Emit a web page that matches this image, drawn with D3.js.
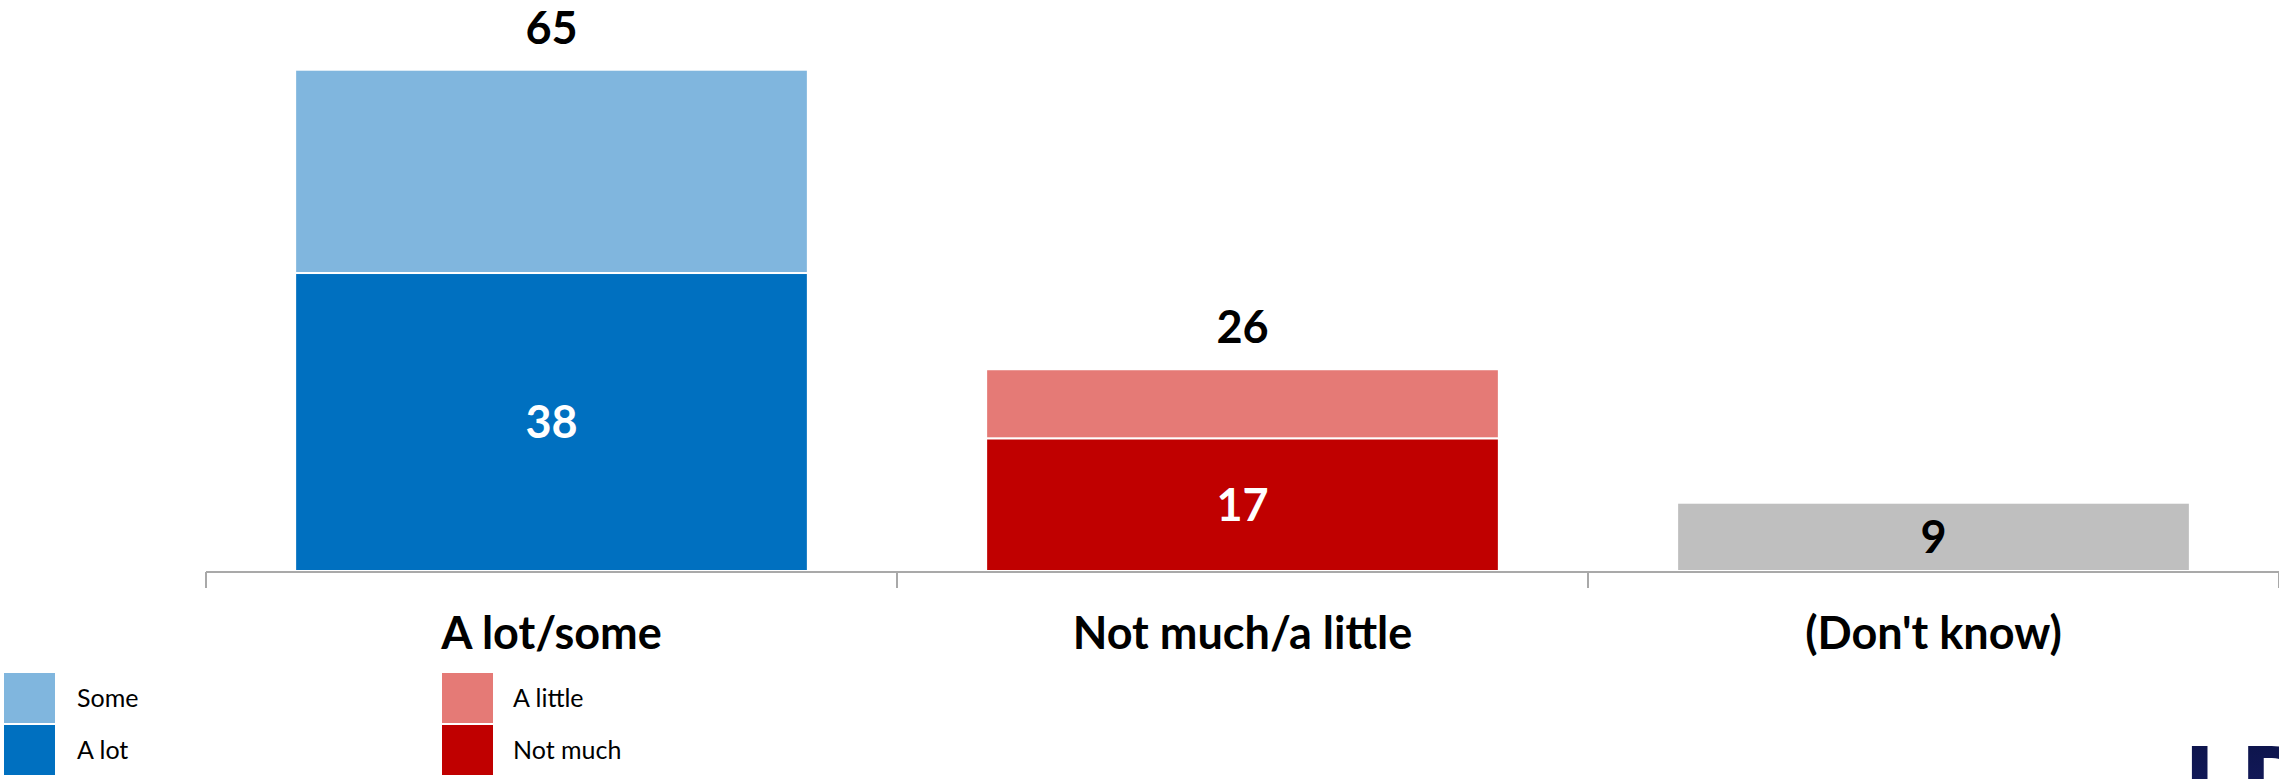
<!DOCTYPE html>
<html>
<head>
<meta charset="utf-8">
<script src="https://cdn.jsdelivr.net/npm/d3@7"></script>
<style>
  html, body { margin: 0; padding: 0; background: #ffffff; }
  svg { display: block; }
  text { font-family: Lato, "Open Sans", "DejaVu Sans", sans-serif; }
</style>
</head>
<body>
<svg id="chart" width="2279" height="779"></svg>
<script>
// ---- data ----
const categories = ["A lot/some", "Not much/a little", "(Don't know)"];
const aLot      = [38.4, 0, 0];
const some      = [26.2, 0, 0];
const notMuch   = [0, 17.1, 0];
const aLittle   = [0, 8.9, 0];
const dontKnow  = [0, 0, 8.8];
const legendLeft  = ["Some", "A lot"];
const legendRight = ["A little", "Not much"];
const logoText = "LR";

// ---- styles ----
const colors = {
  "A lot": "#0070c0", "Some": "#80b6de",
  "Not much": "#c00000", "A little": "#e57a76",
  "(Don't know)": "#bfbfbf"
};

const svg = d3.select("#chart");

const x = d3.scaleBand().domain(categories).range([206, 2279]).padding(0);
const barFrac = 0.742;
const barW = x.bandwidth() * barFrac;
const barX = c => x(c) + (x.bandwidth() - barW) / 2;

const y = d3.scaleLinear().domain([0, 70]).range([571, 571 - 70 * 7.76]);

const fmt = d3.format(".0f");

const bottomSeries = [
  { name: "A lot", values: aLot },
  { name: "Not much", values: notMuch },
  { name: "(Don't know)", values: dontKnow }
];
const topSeries = [
  { name: "Some", values: some },
  { name: "A little", values: aLittle }
];

const segments = [];
categories.forEach((c, i) => {
  let base = 0;
  bottomSeries.forEach(s => {
    if (s.values[i] > 0) { segments.push({ cat: c, name: s.name, y0: base, y1: base + s.values[i], v: s.values[i], pos: "bottom" }); base += s.values[i]; }
  });
  topSeries.forEach(s => {
    if (s.values[i] > 0) { segments.push({ cat: c, name: s.name, y0: base, y1: base + s.values[i], v: s.values[i], pos: "top" }); base += s.values[i]; }
  });
});

const g = svg.append("g");

g.selectAll("rect.seg").data(segments).join("rect")
  .attr("class", "seg")
  .attr("x", d => barX(d.cat))
  .attr("width", barW)
  .attr("y", d => y(d.y1))
  .attr("height", d => y(d.y0) - y(d.y1))
  .attr("fill", d => colors[d.name])
  .attr("stroke", "#ffffff")
  .attr("stroke-width", 2);

// axis
const axisY = 572;
const axis = d3.axisBottom(x).tickSize(0).tickFormat("");
const axG = svg.append("g").attr("transform", `translate(0,${axisY})`).call(axis);
axG.select(".domain").attr("stroke", "#a9a9a9").attr("stroke-width", 2).attr("d", `M206,0H2279`);
const boundaries = categories.map(c => x(c)).concat([x.range()[1]]);
axG.selectAll("line.bt").data(boundaries).join("line")
  .attr("class", "bt")
  .attr("x1", d => d).attr("x2", d => d)
  .attr("y1", 0).attr("y2", 16)
  .attr("stroke", "#a9a9a9").attr("stroke-width", 2);

// category labels
svg.append("g").selectAll("text.cat").data(categories).join("text")
  .attr("class", "cat")
  .attr("x", c => x(c) + x.bandwidth() / 2)
  .attr("y", 649)
  .attr("text-anchor", "middle")
  .attr("font-size", 45)
  .attr("font-weight", 700)
  .attr("fill", "#000")
  .text(c => c);

// value labels
const valFont = 45;
const capHalf = valFont * 0.36;
const labelG = svg.append("g");
segments.filter(d => d.pos === "bottom").forEach(d => {
  labelG.append("text")
    .attr("x", barX(d.cat) + barW / 2)
    .attr("y", (y(d.y0) + y(d.y1)) / 2 + capHalf)
    .attr("text-anchor", "middle")
    .attr("font-size", valFont)
    .attr("font-weight", 700)
    .attr("fill", d.name === "(Don't know)" ? "#000" : "#fff")
    .text(fmt(d.v));
});
categories.forEach((c, i) => {
  const hasTop = topSeries.some(s => s.values[i] > 0);
  if (!hasTop) return;
  const total = bottomSeries.reduce((a, s) => a + s.values[i], 0) + topSeries.reduce((a, s) => a + s.values[i], 0);
  labelG.append("text")
    .attr("x", barX(c) + barW / 2)
    .attr("y", y(total) - 26)
    .attr("text-anchor", "middle")
    .attr("font-size", valFont)
    .attr("font-weight", 700)
    .attr("fill", "#000")
    .text(fmt(total));
});

// legend
function legendCol(labels, x0, tx) {
  const lg = svg.append("g");
  labels.forEach((lab, i) => {
    const yy = 673 + i * 52;
    lg.append("rect").attr("x", x0).attr("y", yy).attr("width", 51).attr("height", 50)
      .attr("fill", colors[lab]);
    lg.append("text").attr("x", tx).attr("y", yy + 25 + 9)
      .attr("font-size", 25).attr("fill", "#000").text(lab);
  });
}
legendCol(legendLeft, 4, 77);
legendCol(legendRight, 442, 513);

// logo fragment at bottom right (cropped by the frame, as in the reference)
const defs = svg.append("defs");
const grad = defs.append("linearGradient").attr("id", "logoGrad").attr("x1", 0).attr("y1", 0).attr("x2", 0).attr("y2", 1);
grad.append("stop").attr("offset", "0%").attr("stop-color", "#0a1245");
grad.append("stop").attr("offset", "100%").attr("stop-color", "#1a1f6a");
svg.append("text")
  .attr("x", 2184).attr("y", 822)
  .attr("font-size", 104)
  .attr("font-weight", 900)
  .attr("fill", "url(#logoGrad)")
  .attr("letter-spacing", 2)
  .text(logoText);
</script>
</body>
</html>
